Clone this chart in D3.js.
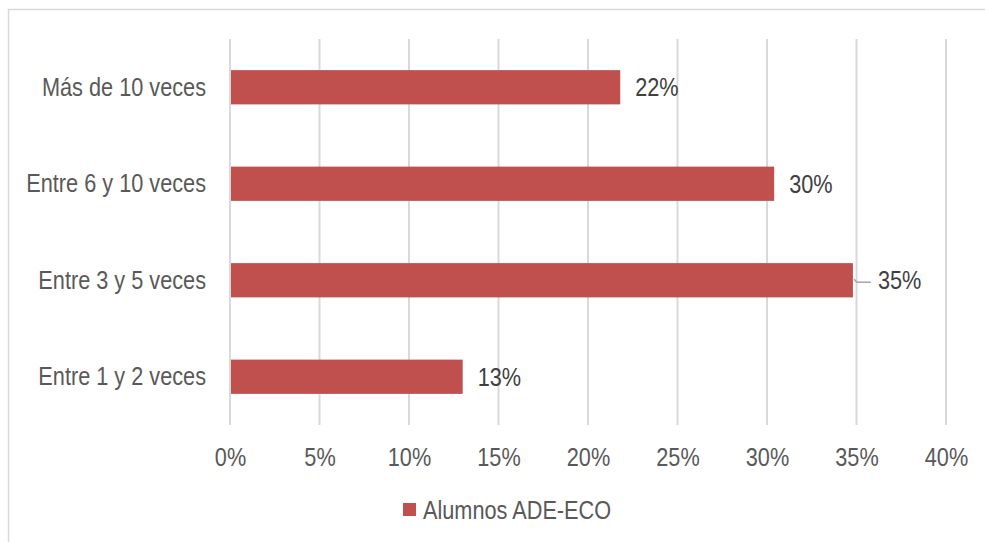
<!DOCTYPE html>
<html><head><meta charset="utf-8">
<script src="https://cdn.jsdelivr.net/npm/d3@7"></script>
<style>body{margin:0;background:#fff}svg{display:block}</style>
</head><body>
<script>
const categories = ["Más de 10 veces","Entre 6 y 10 veces","Entre 3 y 5 veces","Entre 1 y 2 veces"];
const values = [0.218, 0.304, 0.348, 0.130];
const valueLabels = ["22%","30%","35%","13%"];
const xTicks = [0,0.05,0.10,0.15,0.20,0.25,0.30,0.35,0.40];
const seriesName = "Alumnos ADE-ECO";

const W=985,H=542;
const font="'Liberation Sans',Arial,sans-serif";
const FS=26, NARROW="scale(0.835,1)";
const svg=d3.select("body").append("svg").attr("width",W).attr("height",H);
svg.append("rect").attr("x",8.5).attr("y",9.5).attr("width",W).attr("height",H)
  .attr("fill","#fff").attr("stroke","#d9d9d9").attr("stroke-width",1.5);

const x=d3.scaleLinear().domain([0,0.40]).range([230,946]);
const y=d3.scaleBand().domain(categories).range([39,425]).paddingInner(0.645).paddingOuter(0.3225);

const g=svg.append("g");
g.selectAll("line.grid").data(xTicks).join("line")
  .attr("x1",d=>x(d)).attr("x2",d=>x(d)).attr("y1",39).attr("y2",425)
  .attr("stroke","#d9d9d9").attr("stroke-width",2);

const xa=svg.append("g").attr("transform","translate(0,425)")
  .call(d3.axisBottom(x).tickValues(xTicks).tickFormat(d3.format(".0%")).tickSize(0).tickPadding(23));
xa.select(".domain").remove();
xa.selectAll("text").attr("font-family",font).attr("font-size",FS).attr("fill","#595959").attr("transform",NARROW);

const ya=svg.append("g").attr("transform","translate(206,0)")
  .call(d3.axisLeft(y).tickSize(0).tickPadding(0));
ya.select(".domain").remove();
ya.selectAll("text").attr("font-family",font).attr("font-size",FS).attr("fill","#595959").attr("transform",NARROW);

g.selectAll("rect.bar").data(values).join("rect")
  .attr("x",x(0)+1).attr("y",(d,i)=>y(categories[i]))
  .attr("width",d=>x(d)-x(0)-1).attr("height",y.bandwidth())
  .attr("fill","#C0504D");

g.selectAll("text.lbl").data(values).join("text")
  .attr("transform",(d,i)=>`translate(${x(d)+(i===2?25:15)},${y(categories[i])+y.bandwidth()/2}) ${NARROW}`)
  .attr("dy","0.35em").attr("font-family",font).attr("font-size",FS).attr("fill","#404040")
  .text((d,i)=>valueLabels[i]);

// leader line for 35%
const i2=2;
const ly=y(categories[i2])+y.bandwidth()/2;
g.append("path")
  .attr("d",`M${x(values[i2])+1},${ly-1} L${x(values[i2])+4},${ly+2} L${x(values[i2])+18},${ly+2}`)
  .attr("fill","none").attr("stroke","#a6a6a6").attr("stroke-width",1.5);

const lg=svg.append("g");
lg.append("rect").attr("x",403).attr("y",503).attr("width",13).attr("height",13).attr("fill","#C0504D");
lg.append("text").attr("transform",`translate(423,510) ${NARROW}`).attr("dy","0.35em")
  .attr("font-family",font).attr("font-size",FS).attr("fill","#595959").text(seriesName);
</script>
</body></html>
